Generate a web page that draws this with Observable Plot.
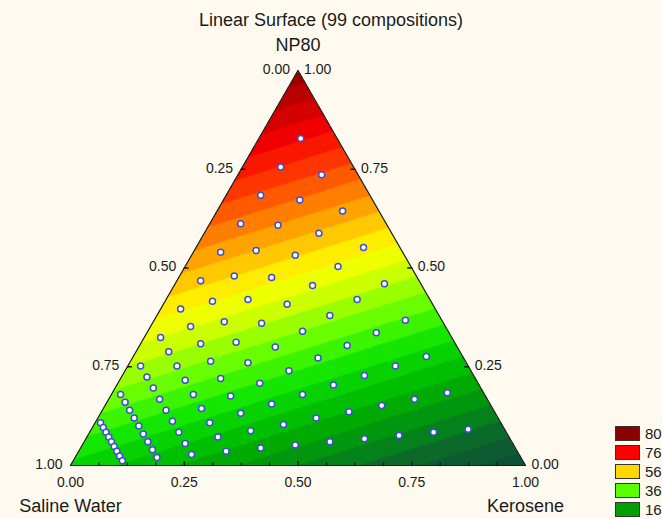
<!DOCTYPE html>
<html>
<head>
<meta charset="utf-8">
<script src="https://cdn.jsdelivr.net/npm/d3@7"></script>
<script src="https://cdn.jsdelivr.net/npm/@observablehq/plot@0.6"></script>
<style>
html, body { margin: 0; padding: 0; background: #fffaf0; overflow: hidden; }
#wrap { position: relative; width: 662px; height: 519px; font-family: "Liberation Sans", Arial, sans-serif; color: #1a1a1a; }
#title { position: absolute; left: 0; top: 10px; width: 662px; text-align: center; font-size: 18px; line-height: 21px; }
#chart { position: absolute; left: 0; top: 0; }
#legend { position: absolute; left: 615px; top: 426px; width: 47px; }
.item { display: flex; align-items: center; height: 15px; margin-bottom: 4px; white-space: nowrap; font-size: 15px; }
.sw { width: 23px; height: 13px; border: 1px solid #333; margin-right: 5px; flex: none; }
</style>
</head>
<body>
<div id="wrap">
  <div id="chart"></div>
  <div id="title">Linear Surface (99 compositions)</div>
  <div id="legend"></div>
</div>
<script>
// ---- data ----
const componentNames = ["Saline Water", "Kerosene", "NP80"];
const salineLevels = [0.08, 0.16, 0.24, 0.32, 0.40, 0.48, 0.56, 0.64, 0.72, 0.80, 0.88];
const np80ByLevel = [
  [0.828, 0.736, 0.644, 0.552, 0.460, 0.368, 0.276, 0.184, 0.092],
  [0.756, 0.672, 0.588, 0.504, 0.420, 0.336, 0.252, 0.168, 0.084],
  [0.684, 0.608, 0.532, 0.456, 0.380, 0.304, 0.228, 0.152, 0.076],
  [0.612, 0.544, 0.476, 0.408, 0.340, 0.272, 0.204, 0.136, 0.068],
  [0.540, 0.480, 0.420, 0.360, 0.300, 0.240, 0.180, 0.120, 0.060],
  [0.468, 0.416, 0.364, 0.312, 0.260, 0.208, 0.156, 0.104, 0.052],
  [0.396, 0.352, 0.308, 0.264, 0.220, 0.176, 0.132, 0.088, 0.044],
  [0.324, 0.288, 0.252, 0.216, 0.180, 0.144, 0.108, 0.072, 0.036],
  [0.252, 0.224, 0.196, 0.168, 0.140, 0.112, 0.084, 0.056, 0.028],
  [0.180, 0.160, 0.140, 0.120, 0.100, 0.080, 0.060, 0.040, 0.020],
  [0.108, 0.096, 0.084, 0.072, 0.060, 0.048, 0.036, 0.024, 0.012]
];
// linear surface: response at pure Saline Water, Kerosene, NP80
const vertexResponse = [27, -3, 95];
const contourStep = 4;
const tickValues = [0, 0.25, 0.5, 0.75, 1];
const tickLabels = ["0.00", "0.25", "0.50", "0.75", "1.00"];
const innerTickValues = [0.25, 0.5, 0.75];
const minorTickValues = [0.0625, 0.125, 0.1875, 0.3125, 0.375, 0.4375, 0.5625, 0.625, 0.6875, 0.8125, 0.875, 0.9375];
const legendLevels = ["80", "76", "56", "36", "16"];

// ---- styles ----
const legendColors = ["#8b0000", "#ff0000", "#ffd700", "#5aff00", "#00a000"];
const colorStops = [-8, 0, 6, 12, 18, 24, 30, 36, 40, 46, 52, 58, 64, 70, 76, 82, 88, 94, 100];
const colorRange = ["#0d4438", "#0e5535", "#0b6a2a", "#008c14", "#00aa00", "#00c800", "#15e600", "#50fa00", "#80ff00",
                    "#ccff00", "#ffff00", "#ffc800", "#ff9000", "#ff5a00", "#ff2200", "#f00000", "#c80000", "#a00000", "#780000"];

// ---- build table ----
const points = salineLevels.flatMap((w, i) => np80ByLevel[i].map(n => ({w, n, k: 1 - w - n})));
const tx = d => d.k + d.n / 2;
const ty = d => d.n;
const corners = [{w: 1, k: 0, n: 0}, {w: 0, k: 1, n: 0}, {w: 0, k: 0, n: 1}];
const outline = [...corners, corners[0]];

const leftTicks = tickValues.map((v, i) => ({w: v, k: 0, n: 1 - v, label: tickLabels[i]}));
const rightTicks = tickValues.map((v, i) => ({w: 0, k: 1 - v, n: v, label: tickLabels[i]}));
const bottomTicks = tickValues.map((v, i) => ({w: 1 - v, k: v, n: 0, label: tickLabels[i]}));
const leftInner = innerTickValues.map(v => ({w: v, k: 0, n: 1 - v}));
const rightInner = innerTickValues.map(v => ({w: 0, k: 1 - v, n: v}));
const bottomInner = innerTickValues.map(v => ({w: 1 - v, k: v, n: 0}));
const bottomMinor = minorTickValues.map(v => ({w: 1 - v, k: v, n: 0}));

function surface(x, y) {
  const n = y, k = x - y / 2, w = 1 - n - k;
  const eps = 1e-9;
  if (n < -eps || k < -eps || w < -eps) return NaN;
  const v = w * vertexResponse[0] + k * vertexResponse[1] + n * vertexResponse[2];
  return Math.floor(v / contourStep) * contourStep + contourStep / 2;
}

const tickShape = {draw(context, l) { context.moveTo(0, 0); context.lineTo(0, -l); }};

const chart = Plot.plot({
  width: 662,
  height: 519,
  marginLeft: 70,
  marginRight: 137,
  marginTop: 70,
  marginBottom: 54,
  x: {domain: [0, 1], axis: null},
  y: {domain: [0, 1], axis: null},
  color: {type: "linear", domain: colorStops, range: colorRange, clamp: true},
  style: {background: "#fffaf0", fontFamily: "'Liberation Sans', Arial, sans-serif", color: "#1a1a1a"},
  marks: [
    Plot.raster({x1: 0, x2: 1, y1: 0, y2: 1, fill: surface, pixelSize: 1}),
    Plot.line(outline, {x: tx, y: ty, stroke: "#1a1a1a", strokeWidth: 1.2}),
    Plot.vector(leftInner, {x: tx, y: ty, length: 4, rotate: 90, anchor: "start", shape: tickShape, stroke: "#1a1a1a"}),
    Plot.vector(rightInner, {x: tx, y: ty, length: 4, rotate: -90, anchor: "start", shape: tickShape, stroke: "#1a1a1a"}),
    Plot.vector(bottomInner, {x: tx, y: ty, length: 4, rotate: 0, anchor: "start", shape: tickShape, stroke: "#1a1a1a"}),
    Plot.vector(bottomMinor, {x: tx, y: ty, length: 2.5, rotate: 0, anchor: "start", shape: tickShape, stroke: "#1a1a1a"}),
    Plot.dot(points, {x: tx, y: ty, r: 3, fill: "white", stroke: "#3d4fd6", strokeWidth: 1.5}),
    Plot.text(leftTicks, {x: tx, y: ty, text: "label", textAnchor: "end", dx: -8, dy: -1, fontSize: 14}),
    Plot.text(rightTicks, {x: tx, y: ty, text: "label", textAnchor: "start", dx: 6, dy: -1, fontSize: 14}),
    Plot.text(bottomTicks, {x: tx, y: ty, text: "label", textAnchor: "middle", dy: 17, fontSize: 14}),
    Plot.text([corners[2]], {x: tx, y: ty, text: [componentNames[2]], dy: -25, fontSize: 18}),
    Plot.text([corners[0]], {x: tx, y: ty, text: [componentNames[0]], dy: 41, fontSize: 18}),
    Plot.text([corners[1]], {x: tx, y: ty, text: [componentNames[1]], dy: 41, fontSize: 18})
  ]
});
document.getElementById("chart").appendChild(chart);

const legend = document.getElementById("legend");
legendLevels.forEach((lab, i) => {
  const item = document.createElement("div");
  item.className = "item";
  const sw = document.createElement("div");
  sw.className = "sw";
  sw.style.background = legendColors[i];
  const t = document.createElement("span");
  t.textContent = lab;
  item.appendChild(sw);
  item.appendChild(t);
  legend.appendChild(item);
});
</script>
</body>
</html>
